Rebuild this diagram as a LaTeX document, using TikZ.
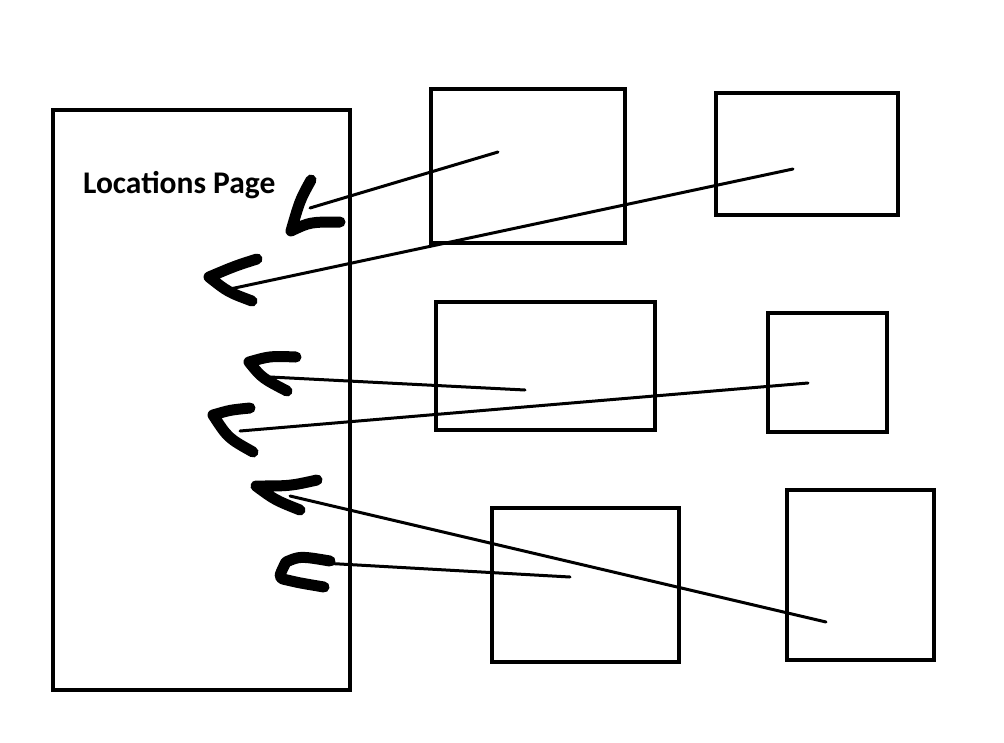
\documentclass[tikz,border=0pt]{standalone}
\usepackage{fontspec}
\setmainfont{Carlito}
\begin{document}
\begin{tikzpicture}[x=1pt,y=-1pt,
  box/.style={draw=black,line width=4pt},
  link/.style={draw=black,line width=3pt,line cap=round},
  scrawl/.style={draw=black,line width=11pt,line cap=round,line join=round},
  lbl/.style={font=\fontsize{31.5}{36}\selectfont\bfseries,inner sep=0pt,anchor=west}]
\useasboundingbox (0,0) rectangle (1004,742);
\node[box,minimum width=297pt,minimum height=580pt,inner sep=0pt] (page) at (201.5,400) {};
\node[box,minimum width=194pt,minimum height=154pt,inner sep=0pt] (b1) at (528,166) {};
\node[box,minimum width=182pt,minimum height=122pt,inner sep=0pt] (b2) at (807,154) {};
\node[box,minimum width=219pt,minimum height=128pt,inner sep=0pt] (b3) at (545.5,366) {};
\node[box,minimum width=119pt,minimum height=119pt,inner sep=0pt] (b4) at (827.5,372.5) {};
\node[box,minimum width=187pt,minimum height=154pt,inner sep=0pt] (b5) at (585.5,585) {};
\node[box,minimum width=147pt,minimum height=170pt,inner sep=0pt] (b6) at (860.5,575) {};
\node[lbl] (title) at (83,185) {Locations Page};
% connector endpoints
\coordinate (s1) at (498,152); \coordinate (e1) at (310,208);
\coordinate (s2) at (793,169); \coordinate (e2) at (230,289);
\coordinate (s3) at (525,390); \coordinate (e3) at (270,377);
\coordinate (s4) at (808,383); \coordinate (e4) at (240,431);
\coordinate (s5) at (826,622); \coordinate (e5) at (290,496);
\coordinate (s6) at (570,577); \coordinate (e6) at (322,563);
\draw[link] (s1) -- (e1);
\draw[link] (s2) -- (e2);
\draw[link] (s3) -- (e3);
\draw[link] (s4) -- (e4);
\draw[link] (s5) -- (e5);
\draw[link] (s6) -- (e6);
% hand-drawn arrowheads
\draw[scrawl] (311,180) .. controls (300,200) .. (291,231) .. controls (310,222) .. (340,222);
\draw[scrawl] (257,259) .. controls (235,266) .. (209,277) .. controls (228,292) .. (252,301);
\draw[scrawl] (296,357) .. controls (270,356) .. (249,362) .. controls (262,378) .. (287,391);
\draw[scrawl] (250,408) .. controls (230,410) .. (213,415) .. controls (228,438) .. (253,452);
\draw[scrawl] (317,480) .. controls (290,486) .. (256,486) .. controls (275,500) .. (300,510);
\draw[scrawl] (330,561) .. controls (300,556) .. (286,562) .. controls (278,578) .. (287,580) .. controls (300,583) .. (324,587);
\end{tikzpicture}
\end{document}
